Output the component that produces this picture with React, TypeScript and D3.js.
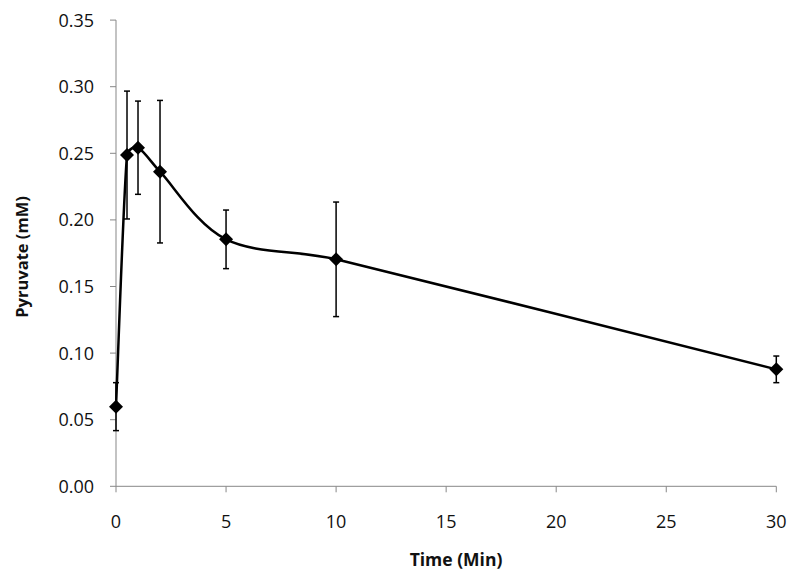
import React from "react";
import * as d3 from "d3";

const times = [0, 0.5, 1, 2, 5, 10, 30];
const pyruvate = [0.0598, 0.2487, 0.2542, 0.2362, 0.1854, 0.1704, 0.0878];
const errors = [0.018, 0.048, 0.035, 0.0535, 0.022, 0.043, 0.010];
const xTicks = [0, 5, 10, 15, 20, 25, 30];
const yTicks = [0, 0.05, 0.1, 0.15, 0.2, 0.25, 0.3, 0.35];

function smoothPath(pts: [number, number][]): string {
  const p = d3.path();
  const n = pts.length;
  const tan = pts.map((_, i) => {
    const a = pts[Math.max(0, i - 1)];
    const b = pts[Math.min(n - 1, i + 1)];
    return [(b[0] - a[0]) / 2, (b[1] - a[1]) / 2];
  });
  p.moveTo(pts[0][0], pts[0][1]);
  for (let i = 0; i < n - 1; i++) {
    const a = pts[i], b = pts[i + 1];
    const seg = Math.hypot(b[0] - a[0], b[1] - a[1]);
    const lim = seg * 0.35;
    const c = (t: number[]) => {
      const l = Math.hypot(t[0], t[1]) / 3;
      const s = l > lim ? lim / l : 1;
      return [(t[0] / 3) * s, (t[1] / 3) * s];
    };
    const t1 = c(tan[i]);
    const t2 = c(tan[i + 1]);
    p.bezierCurveTo(a[0] + t1[0], a[1] + t1[1], b[0] - t2[0], b[1] - t2[1], b[0], b[1]);
  }
  return p.toString();
}

export default function App() {
  const W = 800, H = 578;
  const x = d3.scaleLinear().domain([0, 30]).range([116, 776.3]);
  const y = d3.scaleLinear().domain([0, 0.35]).range([486.3, 20.1]);
  const pts = times.map((t, i) => [x(t), y(pyruvate[i])] as [number, number]);
  const line = smoothPath(pts);
  const axisColor = "#878787";
  const font = "'Open Sans', 'Liberation Sans', sans-serif";
  const dsize = 7;
  return (
    <svg width={W} height={H} style={{ position: "absolute", left: 0, top: 0, background: "#fff" }}>
      <rect width={W} height={H} fill="#fff" />
      {/* axes */}
      <line x1={x(0)} x2={x(0)} y1={y(0.35)} y2={y(0)} stroke={axisColor} strokeWidth={1} />
      <line x1={x(0)} x2={x(30)} y1={y(0)} y2={y(0)} stroke={axisColor} strokeWidth={1} />
      {yTicks.map((v) => (
        <g key={"y" + v}>
          <line x1={x(0) - 6} x2={x(0)} y1={y(v)} y2={y(v)} stroke={axisColor} />
          <text x={94} y={y(v)} dy="0.36em" textAnchor="end" fontFamily={font} fontSize={18} fill="#111">
            {v.toFixed(2)}
          </text>
        </g>
      ))}
      {xTicks.map((v) => (
        <g key={"x" + v}>
          <line x1={x(v)} x2={x(v)} y1={y(0)} y2={y(0) + 6} stroke={axisColor} />
          <text x={x(v)} y={521.5} dy="0.36em" textAnchor="middle" fontFamily={font} fontSize={18} fill="#111">
            {v}
          </text>
        </g>
      ))}
      <text x={456} y={560} dy="0.36em" textAnchor="middle" fontFamily={font} fontSize={17.5} fontWeight="bold" fill="#111">
        Time (Min)
      </text>
      <text
        transform={`translate(22,257) rotate(-90)`}
        dy="0.36em"
        textAnchor="middle"
        fontFamily={font}
        fontSize={16.5}
        fontWeight="bold"
        fill="#111"
      >
        Pyruvate (mM)
      </text>
      {/* line */}
      <path d={line} fill="none" stroke="#000" strokeWidth={2.5} />
      {/* error bars */}
      {times.map((t, i) => {
        const cx = x(t);
        const top = y(pyruvate[i] + errors[i]);
        const bot = y(pyruvate[i] - errors[i]);
        return (
          <g key={"e" + i} stroke="#000" strokeWidth={1.5}>
            <line x1={cx} x2={cx} y1={top} y2={bot} />
            <line x1={cx - 3} x2={cx + 3} y1={top} y2={top} />
            <line x1={cx - 3} x2={cx + 3} y1={bot} y2={bot} />
          </g>
        );
      })}
      {/* markers */}
      {pts.map(([px, py], i) => (
        <path
          key={"m" + i}
          d={`M${px},${py - dsize}L${px + dsize},${py}L${px},${py + dsize}L${px - dsize},${py}Z`}
          fill="#000"
        />
      ))}
    </svg>
  );
}
